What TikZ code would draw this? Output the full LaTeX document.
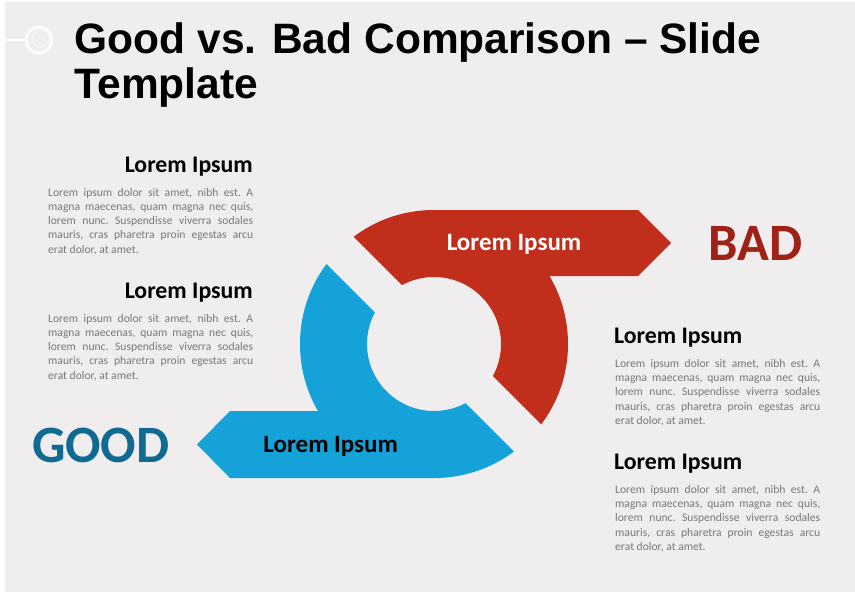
\documentclass[tikz,border=0pt]{standalone}
\usepackage{fontspec}
\newfontfamily\carlito{Carlito}
\newfontfamily\arialf{Liberation Sans}
\definecolor{bgc}{HTML}{EFEDEE}
\definecolor{redc}{HTML}{C12E1B}
\definecolor{bluec}{HTML}{14A2D9}
\definecolor{badc}{HTML}{9E2316}
\definecolor{goodc}{HTML}{106A92}
\definecolor{bodyc}{HTML}{7A7777}
\tikzset{
  bodytxt/.style={anchor=base west, inner sep=0pt, text=bodyc, font=\carlito\frenchspacing\fontsize{11.6}{13}\selectfont},
  headtxt/.style={inner sep=0pt, text=black, font=\carlito\bfseries\fontsize{23.8}{26}\selectfont},
  bandtxt/.style={anchor=base, inner sep=0pt, font=\carlito\bfseries\fontsize{25}{28}\selectfont},
  bigtxt/.style={anchor=base, inner sep=0pt, font=\carlito\bfseries\fontsize{52.5}{60}\selectfont},
  titletxt/.style={anchor=base west, inner sep=0pt, text=black, font=\arialf\bfseries\fontsize{42.5}{46}\selectfont}
}
\newcommand\loremblock[3]{%
  \node[bodytxt] (#1a) at (#2,#3) {\makebox[205pt][s]{Lorem ipsum dolor sit amet, nibh est. A}};
  \node[bodytxt,yshift=-14.3pt] (#1b) at (#2,#3) {\makebox[205pt][s]{magna maecenas, quam magna nec quis,}};
  \node[bodytxt,yshift=-28.6pt] (#1c) at (#2,#3) {\makebox[205pt][s]{lorem nunc. Suspendisse viverra sodales}};
  \node[bodytxt,yshift=-42.9pt] (#1d) at (#2,#3) {\makebox[205pt][s]{mauris, cras pharetra proin egestas arcu}};
  \node[bodytxt,yshift=-57.2pt] (#1e) at (#2,#3) {erat dolor, at amet.};
}
\begin{document}
\begin{tikzpicture}[x=1pt,y=-1pt]
\useasboundingbox (0,0) rectangle (855,592);
\fill[white] (0,0) rectangle (855,592);
\fill[bgc] (5,2) rectangle (855,592);
% title decoration
\draw[white, line width=2pt] (0,40) -- (25.5,40);
\draw[white, line width=2.6pt] (39,40) circle[radius=13pt];
\draw[white, opacity=0.6, line width=1pt] (40.5,38.5) circle[radius=8.5pt];
% title
\node[titletxt] (t1) at (74.5,53) {Good vs. Bad Comparison – Slide};
\node[titletxt] (t2) at (74.5,98.5) {Template};
% red shape
\begin{scope}
  \clip (200,83) -- (700,583) -- (700,83) -- cycle;
  \fill[redc, even odd rule] (434,344) circle[radius=134pt] (434,344) circle[radius=67pt];
\end{scope}
\fill[redc] (434,210) -- (638,210) -- (671,243) -- (638,276) -- (434,276) -- cycle;
% blue shape
\begin{scope}
  \clip (150,87.5) -- (650,587.5) -- (150,587.5) -- cycle;
  \fill[bluec, even odd rule] (434,344) circle[radius=134pt] (434,344) circle[radius=67pt];
\end{scope}
\fill[bluec] (434,411) -- (230,411) -- (197,444.5) -- (230,478) -- (434,478) -- cycle;
% band labels
\node[bandtxt, text=white] (redlab) at (514,250) {Lorem Ipsum};
\node[bandtxt, text=black] (bluelab) at (330.7,452.7) {Lorem Ipsum};
% big words
\node[bigtxt, text=badc] (bad) at (755.6,260) {BAD};
\node[bigtxt, text=goodc] (good) at (100.8,462.7) {GOOD};
% left blocks
\node[headtxt, anchor=base east] (lh1) at (253,172.7) {Lorem Ipsum};
\loremblock{lb1}{48}{196}
\node[headtxt, anchor=base east] (lh2) at (253,298.7) {Lorem Ipsum};
\loremblock{lb2}{48}{322}
% right blocks
\node[headtxt, anchor=base west] (rh1) at (614,343.3) {Lorem Ipsum};
\loremblock{rb1}{615}{367.3}
\node[headtxt, anchor=base west] (rh2) at (614,469.3) {Lorem Ipsum};
\loremblock{rb2}{615}{493.3}
\end{tikzpicture}
\end{document}
